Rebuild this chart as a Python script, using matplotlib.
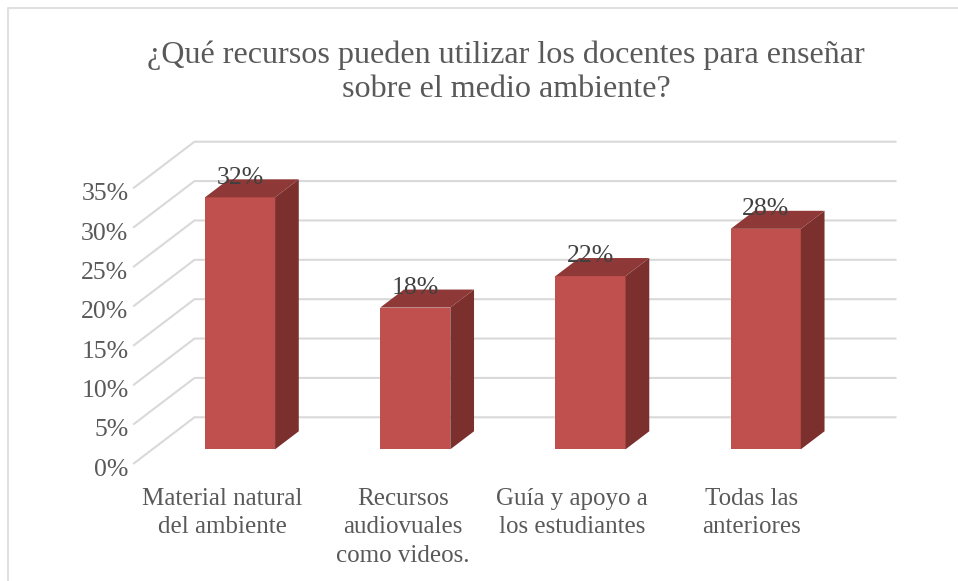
import matplotlib
matplotlib.use('Agg')
import matplotlib.pyplot as plt
from matplotlib.patches import Polygon
from matplotlib.lines import Line2D
from matplotlib.transforms import ScaledTranslation

categories = ['Material natural\ndel ambiente', 'Recursos\naudiovuales\ncomo videos.',
              'Guía y apoyo a\nlos estudiantes', 'Todas las\nanteriores']
values = [32, 18, 22, 28]
y_ticks = [0, 5, 10, 15, 20, 25, 30, 35]
title = '¿Qué recursos pueden utilizar los docentes para enseñar\nsobre el medio ambiente?'

W, H = 958, 581
# floor / wall shear of the fake 3d box, in data units
depth_x = 60.5/175.25
depth_y = 46/7.874
bar_width = 0.4
front = 0.304 # how far into the box the bars start
back = 0.696

c_front = '#c0504d'
c_top = '#8e3937'
c_side = '#7b302e'
c_grid = '#d9d9d9'
c_text = '#595959'
serif = ['Liberation Serif', 'DejaVu Serif']

fig = plt.figure(figsize=(W/100, H/100), dpi=100, facecolor='white')
ax = fig.add_axes([134/W, 1-463.3/H, 701/W, 275.6/H])
ax.set_xlim(0, 4)
ax.set_ylim(0, 35)
ax.patch.set_visible(False)
for sp in ax.spines.values():
    sp.set_visible(False)

# outer frame, only left and top show up
fig.add_artist(Line2D([8/W, 8/W, 1], [0, 1-8/H, 1-8/H], color='#e0e0e0', lw=1.5))

for v in y_ticks:
    ax.plot([0, depth_x, 4+depth_x], [v, v+depth_y, v+depth_y], color=c_grid, lw=1.5,
            clip_on=False, zorder=1, solid_joinstyle='miter')

ax.set_yticks(y_ticks)
ax.set_yticklabels([f'{v}%' for v in y_ticks], family=serif, fontsize=18.5, color=c_text)
ax.set_xticks([i+0.5 for i in range(len(categories))])
ax.set_xticklabels(categories, family=serif, fontsize=18, color=c_text, linespacing=1.36)
ax.tick_params(length=0)
ax.tick_params(axis='y', pad=4)
ax.tick_params(axis='x', pad=18)
# percent labels sit a little under their gridline ends
for lab in ax.get_yticklabels():
    lab.set_transform(lab.get_transform() + ScaledTranslation(0, -4/100, fig.dpi_scale_trans))
# category labels are not quite centred on their slots
for lab, shift in zip(ax.get_xticklabels(), [1, 6, 0, 4]):
    lab.set_transform(lab.get_transform() + ScaledTranslation(shift/100, 0, fig.dpi_scale_trans))

for i, v in enumerate(values):
    x0 = i + 0.5 - bar_width/2 + front*depth_x
    x1 = x0 + bar_width
    y0 = front*depth_y
    y1 = y0 + v
    dx = (back-front)*depth_x
    dy = (back-front)*depth_y
    ax.bar(x0, v, width=bar_width, bottom=y0, align='edge', color=c_front, zorder=3, clip_on=False)
    ax.add_patch(Polygon([(x1, y0), (x1+dx, y0+dy), (x1+dx, y1+dy), (x1, y1)], color=c_side, lw=0,
                         zorder=3, clip_on=False))
    ax.add_patch(Polygon([(x0, y1), (x0+dx, y1+dy), (x1+dx, y1+dy), (x1, y1)], color=c_top, lw=0,
                         zorder=3, clip_on=False))
    ax.text((x0+x1)/2, y1+2.5, f'{v}%', family=serif, fontsize=18.5, color='#404040',
            ha='center', va='center', zorder=4)

fig.text(506/W, 1-72.5/H, title, family=serif, fontsize=23.1, color=c_text, ha='center', va='center',
         linespacing=1.22)

fig.savefig('out.png', dpi=100)
